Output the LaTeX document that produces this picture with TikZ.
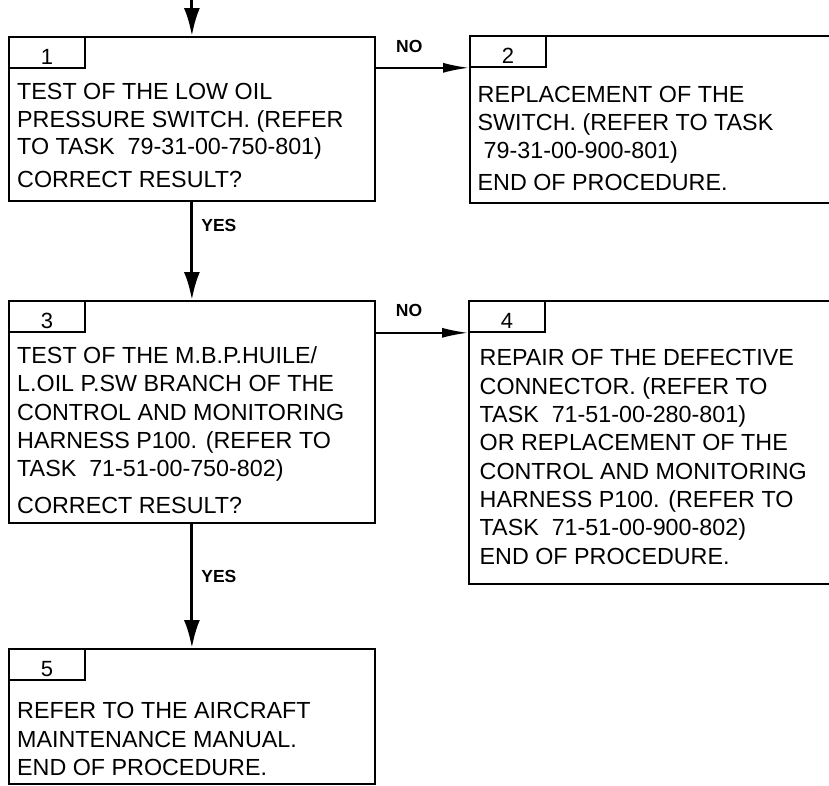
\documentclass[tikz,border=0pt]{standalone}
\usepackage{fontspec}
\setmainfont{Liberation Sans}
\usepackage{tikz}
\usetikzlibrary{arrows.meta,positioning}

\tikzset{
  stepbox/.style={draw,line width=1.8pt,minimum width=366pt,anchor=north west,inner sep=0pt},
  numtab/.style={draw,line width=1.8pt,minimum width=76pt,minimum height=31pt,anchor=north west,
    inner sep=0pt,text height=25pt,text depth=0pt,font=\fontsize{22}{26}\selectfont},
  body/.style={align=left,inner sep=0pt,anchor=north west,font=\fontsize{23.3}{28.3}\selectfont},
  flow/.style={line width=3pt,-{Latex[length=28pt,width=16pt]}},
  branch/.style={line width=1.8pt,-{Latex[length=26pt,width=10pt]}},
  answer/.style={inner sep=0pt,font=\bfseries\fontsize{17.5}{20}\selectfont}
}

\begin{document}
\begin{tikzpicture}[x=1pt,y=-1pt]
  \clip (0,0) rectangle (829,785);
  \node[stepbox,minimum height=164pt] (b1) at (8,36) {};
  \node[stepbox,minimum height=167pt] (b2) at (469,35) {};
  \node[stepbox,minimum height=222pt] (b3) at (8,300) {};
  \node[stepbox,minimum height=283pt] (b4) at (468,300) {};
  \node[stepbox,minimum height=135pt] (b5) at (8,648) {};
  \node[numtab] (n1) at (b1.north west) {1};
  \node[numtab] (n2) at (b2.north west) {2};
  \node[numtab] (n3) at (b3.north west) {3};
  \node[numtab] (n4) at (b4.north west) {4};
  \node[numtab] (n5) at (b5.north west) {5};
  \node[body,font=\fontsize{23.3}{27.5}\selectfont,below right=47.5pt and 9pt of b1.north west] (t1)
    {TEST OF THE LOW OIL\\PRESSURE SWITCH. (REFER\\TO TASK\ \ 79-31-00-750-801)\\[5.5pt]CORRECT RESULT?};
  \node[body,font=\fontsize{23.3}{28}\selectfont,below right=51.5pt and 8.5pt of b2.north west] (t2)
    {REPLACEMENT OF THE\\SWITCH. (REFER TO TASK\\\hspace*{6pt}79-31-00-900-801)\\[4pt]END OF PROCEDURE.};
  \node[body,below right=46.5pt and 9pt of b3.north west] (t3)
    {TEST OF THE M.B.P.HUILE/\\L.OIL P.SW BRANCH OF THE\\CONTROL AND MONITORING\\HARNESS P100. (REFER TO\\TASK\ \ 71-51-00-750-802)\\[8pt]CORRECT RESULT?};
  \node[body,below right=49.5pt and 11.5pt of b4.north west] (t4)
    {REPAIR OF THE DEFECTIVE\\CONNECTOR. (REFER TO\\TASK\ \ 71-51-00-280-801)\\OR REPLACEMENT OF THE\\CONTROL AND MONITORING\\HARNESS P100. (REFER TO\\TASK\ \ 71-51-00-900-802)\\END OF PROCEDURE.};
  \node[body,font=\fontsize{23.3}{28.5}\selectfont,below right=54.5pt and 9pt of b5.north west] (t5)
    {REFER TO THE AIRCRAFT\\MAINTENANCE MANUAL.\\END OF PROCEDURE.};
  \coordinate (entry) at (b1.north |- 0,0);
  \draw[flow] (entry) -- (b1.north);
  \draw[flow] (b1.south) -- node[answer,pos=.24,anchor=west,xshift=8pt] (yes1) {YES} (b3.north);
  \draw[flow] (b3.south) -- node[answer,pos=.42,anchor=west,xshift=8pt] (yes2) {YES} (b5.north);
  \draw[branch] (b1.east |- n2.south west) -- node[answer,pos=.36,anchor=south,yshift=14pt] (no1) {NO} (n2.south west);
  \draw[branch] (b3.east |- n4.south west) -- node[answer,pos=.36,anchor=south,yshift=15pt] (no2) {NO} (n4.south west);
\end{tikzpicture}
\end{document}
